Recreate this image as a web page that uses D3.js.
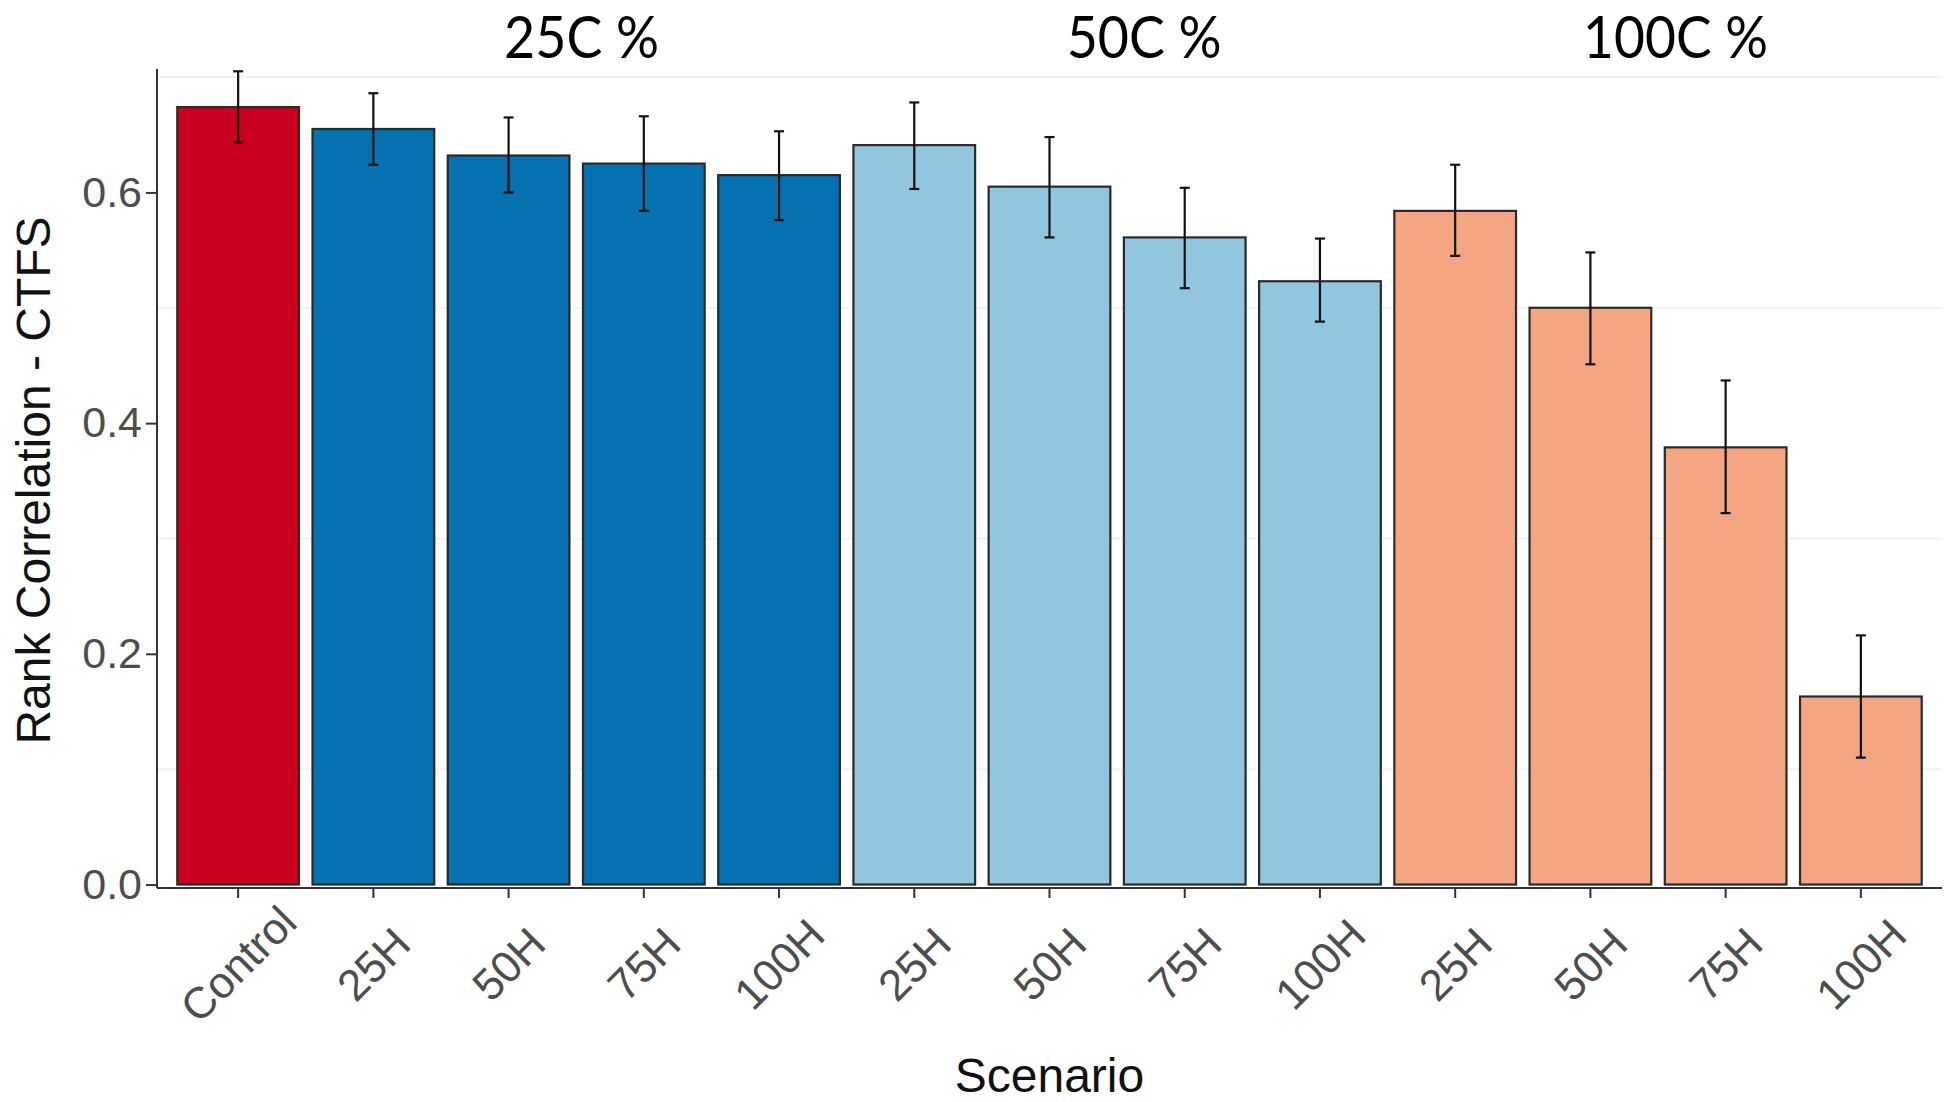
<!DOCTYPE html>
<html>
<head>
<meta charset="utf-8">
<script src="https://cdn.jsdelivr.net/npm/d3@7"></script>
<style>
  html, body { margin: 0; padding: 0; background: #fff; }
  svg { display: block; }
</style>
</head>
<body>
<div id="chart"></div>
<script>
// data
const categories = ['Control', '25H', '50H', '75H', '100H', '25H', '50H', '75H', '100H', '25H', '50H', '75H', '100H'];
const groups = ['control', '25C', '25C', '25C', '25C', '50C', '50C', '50C', '50C', '100C', '100C', '100C', '100C'];
const values = [0.674, 0.655, 0.632, 0.625, 0.615, 0.641, 0.605, 0.561, 0.523, 0.584, 0.500, 0.379, 0.163];
const lower = [0.643, 0.624, 0.600, 0.584, 0.576, 0.603, 0.561, 0.517, 0.488, 0.545, 0.451, 0.322, 0.110];
const upper = [0.705, 0.686, 0.665, 0.666, 0.653, 0.678, 0.648, 0.604, 0.560, 0.624, 0.548, 0.437, 0.216];
const yTicks = [0, 0.2, 0.4, 0.6];
const minorGrid = [0.1, 0.3, 0.5, 0.7];
const headers = ['25C %', '50C %', '100C %'];
const headerAt = [2.54, 6.70, 10.63]; // position along category index

const groupColor = {
  'control': '#CA0020',
  '25C': '#0571B0',
  '50C': '#92C5DE',
  '100C': '#F4A582',
};

const width = 1946;
const height = 1102;
const panel = {left: 157, right: 1942, top: 69, bottom: 888};

const svg = d3.select('#chart')
    .append('svg')
    .attr('width', width)
    .attr('height', height);

const idx = categories.map((d, i) => i);

const xScale = d3.scaleBand()
    .domain(idx)
    .range([panel.left, panel.right])
    .paddingInner(0.1)
    .paddingOuter(0.15);

const yScale = d3.scaleLinear()
    .domain([-0.003, 0.707])
    .range([panel.bottom, panel.top]);

const bw = xScale.bandwidth();
const xCenter = d3.scaleLinear()
    .domain([0, categories.length - 1])
    .range([xScale(0) + bw / 2, xScale(categories.length - 1) + bw / 2]);

// faint minor grid
svg.append('g')
    .selectAll('line')
    .data(minorGrid)
    .enter()
    .append('line')
    .attr('x1', panel.left)
    .attr('x2', panel.right)
    .attr('y1', (d) => yScale(d))
    .attr('y2', (d) => yScale(d))
    .attr('stroke', '#eef4f3')
    .attr('stroke-width', 2);

// bars
svg.append('g')
    .selectAll('rect')
    .data(idx)
    .enter()
    .append('rect')
    .attr('x', (i) => xScale(i))
    .attr('y', (i) => yScale(values[i]))
    .attr('width', bw)
    .attr('height', (i) => yScale(0) - yScale(values[i]))
    .attr('fill', (i) => groupColor[groups[i]])
    .attr('stroke', '#2a2a2a')
    .attr('stroke-width', 2.2);

// error bars
const err = svg.append('g')
    .attr('stroke', '#111')
    .attr('stroke-width', 2.2);
idx.forEach((i) => {
  const cx = xCenter(i);
  err.append('line')
      .attr('x1', cx).attr('x2', cx)
      .attr('y1', yScale(lower[i])).attr('y2', yScale(upper[i]));
  err.append('line')
      .attr('x1', cx - 5).attr('x2', cx + 5)
      .attr('y1', yScale(lower[i])).attr('y2', yScale(lower[i]));
  err.append('line')
      .attr('x1', cx - 5).attr('x2', cx + 5)
      .attr('y1', yScale(upper[i])).attr('y2', yScale(upper[i]));
});

// y axis
const yAxis = svg.append('g')
    .attr('transform', `translate(${panel.left}, 0)`)
    .call(d3.axisLeft(yScale).tickValues(yTicks).tickFormat(d3.format('.1f'))
        .tickSize(11).tickPadding(4));
yAxis.select('.domain').remove();
yAxis.selectAll('line').attr('stroke', '#333').attr('stroke-width', 2);
yAxis.selectAll('text')
    .attr('fill', '#4d4d4d')
    .style('font-family', '"Liberation Sans", Arial, sans-serif')
    .style('font-size', '43px');

svg.append('line')
    .attr('x1', panel.left).attr('x2', panel.left)
    .attr('y1', panel.top).attr('y2', panel.bottom)
    .attr('stroke', '#333')
    .attr('stroke-width', 2);

// x axis
const xAxis = svg.append('g')
    .attr('transform', `translate(0, ${panel.bottom})`)
    .call(d3.axisBottom(xScale).tickFormat((i) => categories[i]).tickSize(10));
xAxis.select('.domain').remove();
xAxis.selectAll('line').attr('stroke', '#333').attr('stroke-width', 2);
xAxis.selectAll('text')
    .attr('fill', '#4d4d4d')
    .attr('y', 0)
    .attr('dy', 0)
    .attr('text-anchor', 'middle')
    .attr('dominant-baseline', 'central')
    .attr('transform', 'translate(0, 76) rotate(-45)')
    .style('font-family', '"Liberation Sans", Arial, sans-serif')
    .style('font-size', '44px');

svg.append('line')
    .attr('x1', panel.left).attr('x2', panel.right)
    .attr('y1', panel.bottom).attr('y2', panel.bottom)
    .attr('stroke', '#333')
    .attr('stroke-width', 2);

// axis titles
svg.append('text')
    .attr('transform', `translate(50, ${(panel.top + panel.bottom) / 2 + 2}) rotate(-90)`)
    .attr('text-anchor', 'middle')
    .attr('fill', '#111')
    .style('font-family', '"Liberation Sans", Arial, sans-serif')
    .style('font-size', '48px')
    .text('Rank Correlation - CTFS');

svg.append('text')
    .attr('x', (panel.left + panel.right) / 2)
    .attr('y', 1092)
    .attr('text-anchor', 'middle')
    .attr('fill', '#111')
    .style('font-family', '"Liberation Sans", Arial, sans-serif')
    .style('font-size', '48px')
    .text('Scenario');

// group headers
svg.append('g')
    .selectAll('text')
    .data(headers)
    .enter()
    .append('text')
    .attr('x', (d, i) => xCenter(headerAt[i]))
    .attr('y', 58)
    .attr('text-anchor', 'middle')
    .attr('fill', '#000')
    .attr('textLength', (d) => d.length > 5 ? 185 : 155)
    .attr('lengthAdjust', 'spacingAndGlyphs')
    .style('font-family', 'Lato, "Open Sans", sans-serif')
    .style('font-size', '58px')
    .text((d) => d);
</script>
</body>
</html>
